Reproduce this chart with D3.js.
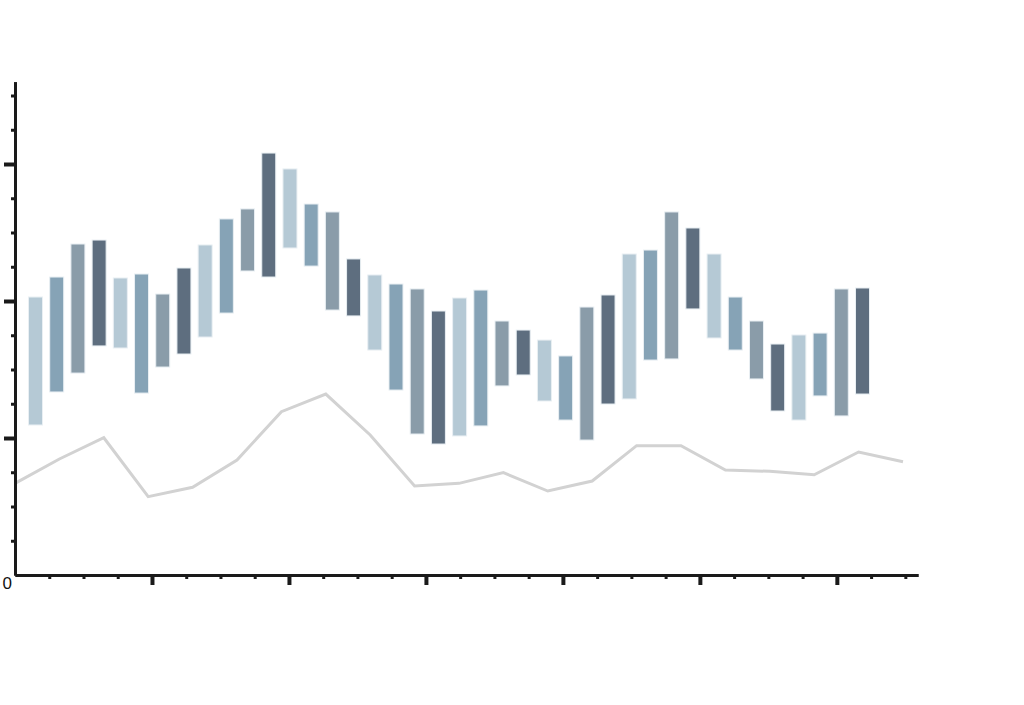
<!DOCTYPE html>
<html>
<head>
<meta charset="utf-8">
<script src="https://cdn.jsdelivr.net/npm/d3@7"></script>
<style>
  body { margin: 0; background: #fff; }
  svg { display: block; font-family: "Liberation Sans", Arial, sans-serif; }
</style>
</head>
<body>
<div id="chart"></div>
<script>
// floating bars: low and high end of each bar
const barLow = [10.95, 13.36, 14.74, 16.72, 16.57, 13.28, 15.18, 16.13, 17.37, 19.12,
                22.19, 21.75, 23.87, 22.55, 19.34, 18.91, 16.42, 13.50, 10.29, 9.56,
                10.15, 10.88, 13.80, 14.60, 12.70, 11.31, 9.85, 12.48, 12.85, 15.69,
                15.77, 19.42, 17.30, 16.42, 14.31, 11.97, 11.31, 13.07, 11.61, 13.21];
const barHigh = [20.29, 21.75, 24.16, 24.45, 21.68, 21.97, 20.51, 22.41, 24.09, 25.99,
                 26.72, 30.80, 29.64, 27.08, 26.50, 23.07, 21.90, 21.24, 20.88, 19.27,
                 20.22, 20.80, 18.54, 17.88, 17.15, 15.99, 19.56, 20.44, 23.43, 23.72,
                 26.50, 25.33, 23.43, 20.29, 18.54, 16.86, 17.52, 17.66, 20.88, 20.95];
// grey line
const lineValues = [6.69, 8.47, 10.02, 5.72, 6.40, 8.39, 11.92, 13.21, 10.22, 6.50,
                    6.69, 7.47, 6.13, 6.86, 9.44, 9.44, 7.66, 7.57, 7.32, 8.98, 8.27];
// axis ticks
const yMajorTicks = [10, 20, 30];
const yMinorTicks = [2.5, 5, 7.5, 12.5, 15, 17.5, 22.5, 25, 27.5, 32.5, 35];
const xMajorTicks = [4, 8, 12, 16, 20, 24];
const xMinorTicks = [1, 2, 3, 5, 6, 7, 9, 10, 11, 13, 14, 15, 17, 18, 19, 21, 22, 23, 25, 26];
const barColors = ["#b5c9d5", "#86a3b6", "#8a9ca9", "#5e6e7f"];

const width = 1024, height = 705;
const origin = { x: 15, y: 575 };

const svg = d3.select("#chart").append("svg")
    .attr("width", width)
    .attr("height", height);

svg.append("rect").attr("width", width).attr("height", height).attr("fill", "#fff");

const y = d3.scaleLinear().domain([0, 36]).range([origin.y, origin.y - 36 * 13.7]);
const x = d3.scaleLinear().domain([0, 26.37]).range([origin.x, 918]);
const xBar = d3.scalePoint().domain(d3.range(barLow.length)).range([35.5, 862.5]);
const xLine = d3.scalePoint().domain(d3.range(lineValues.length)).range([origin.x, 903]);

// line behind bars
const line = d3.line()
    .x((d, i) => xLine(i))
    .y(d => y(d));

svg.append("path")
    .datum(lineValues)
    .attr("fill", "none")
    .attr("stroke", "#d2d2d2")
    .attr("stroke-width", 3)
    .attr("stroke-linejoin", "miter")
    .attr("d", line);

const barWidth = 14;
svg.selectAll("rect.bar")
    .data(barLow)
    .enter()
    .append("rect")
    .attr("class", "bar")
    .attr("x", (d, i) => xBar(i) - barWidth / 2)
    .attr("y", (d, i) => y(barHigh[i]))
    .attr("width", barWidth)
    .attr("height", (d, i) => y(d) - y(barHigh[i]))
    .attr("fill", (d, i) => barColors[i % 4])
    .attr("stroke", "#e9eff3")
    .attr("stroke-width", 1);

// axes
function styleAxis(g, w) {
    g.select(".domain").attr("stroke", "#1a1a1a").attr("stroke-width", 3);
    g.selectAll(".tick line").attr("stroke", "#1a1a1a").attr("stroke-width", w);
}

svg.append("g")
    .attr("transform", "translate(" + origin.x + ",0)")
    .call(d3.axisLeft(y).tickValues(yMinorTicks).tickSize(4).tickSizeOuter(0).tickFormat(""))
    .call(g => styleAxis(g, 3));

svg.append("g")
    .attr("transform", "translate(" + origin.x + ",0)")
    .call(d3.axisLeft(y).tickValues(yMajorTicks).tickSize(11).tickSizeOuter(0).tickFormat(""))
    .call(g => styleAxis(g, 4));

svg.append("g")
    .attr("transform", "translate(0," + origin.y + ")")
    .call(d3.axisBottom(x).tickValues(xMinorTicks).tickSize(4).tickSizeOuter(0).tickFormat(""))
    .call(g => styleAxis(g, 3));

svg.append("g")
    .attr("transform", "translate(0," + origin.y + ")")
    .call(d3.axisBottom(x).tickValues(xMajorTicks).tickSize(10).tickSizeOuter(0).tickFormat(""))
    .call(g => styleAxis(g, 4));

svg.append("text")
    .attr("x", origin.x - 3)
    .attr("y", origin.y + 14)
    .attr("text-anchor", "end")
    .attr("font-size", 17)
    .attr("fill", "#111")
    .text("0");
</script>
</body>
</html>
